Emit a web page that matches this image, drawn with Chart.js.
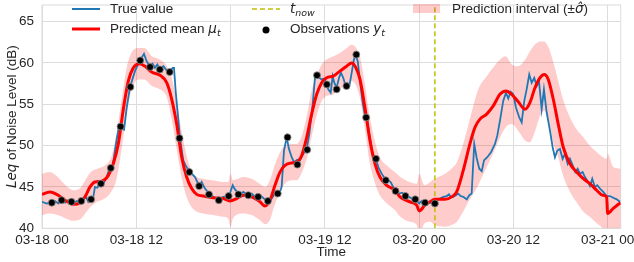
<!DOCTYPE html>
<html>
<head>
<meta charset="utf-8">
<script src="https://cdn.jsdelivr.net/npm/chart.js@4.4.0/dist/chart.umd.min.js"></script>
<style>
  html, body { margin: 0; padding: 0; background: #fff; }
  #chart { display: block; }
</style>
</head>
<body>
<canvas id="chart" width="634" height="262"></canvas>
<script>
// hours since 03-18 00
const xTickHours = [0, 12, 24, 36, 48, 60, 72];
const xTickLabels = ["03-18 00", "03-18 12", "03-19 00", "03-19 12", "03-20 00", "03-20 12", "03-21 00"];
const yTicks = [40, 45, 50, 55, 60, 65];
const tNow = 50;

const trueHours = [0, 0.6, 1.1, 1.65, 2.07, 2.38, 2.93, 3.35, 3.78, 4.42, 4.92, 5.26, 5.6, 5.89, 6.2, 6.53, 6.74, 7.04, 7.38, 7.89,
  8.23, 8.65, 9.0, 9.51, 9.8, 10.14, 10.44, 10.78, 11.2, 11.83, 12.47, 12.98, 13.32, 13.74, 14.08, 14.38, 14.67, 15.02, 15.44, 15.87,
  16.29, 16.63, 16.8, 17.01, 17.56, 17.98, 18.33, 18.62, 18.83, 19.18, 19.47, 20.02, 20.32, 20.74, 21.29, 21.8, 22.44, 23.07, 23.8, 24.27,
  24.56, 24.85, 25.2, 25.62, 26.25, 26.69, 27.11, 27.74, 28.25, 28.67, 29.1, 29.43, 29.78, 29.94, 30.29, 30.5, 30.8, 31.14, 31.43, 31.78,
  32.07, 32.49, 32.83, 33.25, 33.69, 34.02, 34.45, 34.74, 34.96, 35.29, 35.59, 35.92, 36.23, 36.43, 36.74, 36.99, 37.2, 37.5, 37.8, 38.05,
  38.34, 38.65, 38.9, 39.11, 39.41, 39.7, 39.92, 40.18, 40.47, 40.81, 41.14, 41.4, 41.74, 42.08, 42.5, 42.8, 43.23, 43.78, 44.07, 44.37,
  44.7, 45.01, 45.43, 45.85, 46.19, 46.7, 47.12, 47.56, 47.98, 48.32, 48.52, 48.96, 49.38, 49.8, 50.23, 50.65, 51.07, 51.5, 51.8, 52.01,
  52.34, 52.68, 52.98, 53.28, 53.61, 54.05, 54.38, 54.68, 55.01, 55.32, 55.65, 55.96, 56.25, 56.67, 57.14, 57.65, 57.94, 58.28, 58.7, 59.05,
  59.34, 59.65, 59.98, 60.32, 60.74, 61.05, 61.38, 61.68, 62.01, 62.32, 62.65, 62.96, 63.25, 63.59, 63.88, 64.23, 64.65, 64.99, 65.28, 65.58,
  65.92, 66.26, 66.56, 66.9, 67.19, 67.54, 67.87, 68.17, 68.47, 68.81, 69.1, 69.39, 69.74, 70.03, 70.37, 70.67, 71.01, 71.43, 71.86, 72.28,
  72.7, 73.14, 73.56];
const trueLevel = [43.2, 43.0, 43.1, 43.3, 43.0, 43.5, 43.1, 43.4, 43.0, 43.3, 43.0, 43.5, 43.8, 43.2, 43.5, 43.8, 45.0, 44.9, 45.4, 45.5,
  46.2, 47.4, 47.6, 50.8, 52.3, 52.0, 51.9, 54.6, 57.1, 59.0, 60.3, 61.1, 60.2, 59.6, 59.9, 59.4, 59.8, 59.2, 59.6, 59.1,
  59.0, 59.4, 59.4, 56.6, 50.9, 48.2, 47.5, 47.1, 46.8, 46.5, 46.2, 45.1, 45.6, 44.8, 44.2, 43.8, 43.4, 43.8, 43.9, 45.2,
  44.7, 44.4, 44.1, 44.4, 44.0, 44.2, 43.8, 44.0, 43.6, 43.3, 43.4, 43.9, 44.5, 44.2, 44.4, 45.0, 49.4, 51.0, 49.6, 48.6,
  48.0, 48.3, 48.2, 49.0, 49.6, 51.4, 55.0, 58.2, 58.5, 58.2, 58.0, 58.1, 57.4, 56.8, 56.4, 58.4, 57.6, 57.0, 58.2, 58.8,
  58.2, 57.2, 57.5, 57.2, 58.8, 60.4, 61.0, 60.2, 57.8, 55.2, 53.4, 53.0, 51.0, 49.0, 48.4, 47.4, 46.6, 45.8, 45.8, 45.6,
  45.0, 44.5, 44.2, 44.3, 43.9, 43.8, 43.6, 43.5, 43.0, 43.3, 42.9, 43.2, 43.1, 43.0, 43.4, 43.6, 43.8, 43.9, 44.1, 43.8,
  43.8, 44.0, 44.2, 43.9, 43.8, 43.5, 44.0, 44.2, 50.2, 48.5, 47.2, 46.9, 48.2, 48.6, 49.2, 50.2, 51.2, 53.0, 55.4, 56.4,
  55.7, 56.5, 56.2, 54.6, 53.4, 52.8, 55.4, 56.8, 58.6, 57.6, 58.2, 57.2, 57.8, 54.4, 56.8, 54.0, 51.8, 49.8, 48.6, 49.4,
  49.6, 48.4, 49.0, 47.8, 48.4, 47.6, 46.8, 47.2, 46.6, 46.8, 46.2, 45.8, 45.1, 46.0, 45.0, 45.2, 44.8, 44.4, 43.9, 43.9,
  43.7, 43.5, 43.2];

const meanHours = [0, 1.02, 1.87, 2.93, 3.98, 4.84, 5.47, 6.11, 6.74, 7.6, 8.44, 9.07, 9.71, 10.35, 10.98, 11.62, 12.38, 13.11, 13.96, 15.02,
  15.87, 16.51, 17.14, 17.78, 18.41, 19.05, 19.69, 20.53, 21.8, 23.07, 23.92, 24.78, 25.62, 26.69, 27.74, 28.38, 29.02, 29.65, 30.29, 30.92,
  31.78, 32.41, 33.05, 33.69, 34.32, 34.96, 35.59, 36.23, 37.07, 37.92, 38.77, 39.41, 39.96, 40.47, 41.1, 41.74, 42.38, 43.01, 43.87, 44.92,
  45.56, 46.83, 47.68, 48.01, 48.74, 49.38, 50.01, 51.28, 52.14, 52.77, 53.61, 54.46, 55.1, 55.74, 56.59, 57.43, 58.28, 59.05, 59.77, 60.61,
  61.47, 62.1, 62.74, 63.37, 63.92, 64.43, 65.07, 65.7, 66.34, 67.19, 68.04, 68.89, 69.74, 70.59, 71.35, 71.86, 71.99, 72.7, 73.64];
const meanLevel = [44.1, 44.4, 44.1, 43.4, 42.9, 43.1, 43.8, 45.0, 45.6, 45.7, 46.4, 47.8, 50.2, 54.4, 57.8, 59.4, 59.9, 59.6, 58.9, 58.5,
  57.6, 55.6, 52.6, 48.6, 46.2, 44.8, 44.1, 43.9, 43.7, 43.6, 43.3, 43.6, 44.0, 43.8, 43.2, 42.7, 43.4, 45.2, 46.8, 47.6,
  47.9, 48.0, 48.8, 51.0, 53.8, 56.2, 57.6, 58.2, 58.4, 59.0, 59.6, 60.0, 59.4, 58.0, 54.6, 50.6, 47.8, 46.2, 45.2, 44.6,
  43.8, 43.2, 42.8, 42.1, 42.8, 43.2, 43.5, 43.5, 43.8, 44.4, 47.0, 50.2, 52.2, 53.2, 53.8, 54.8, 56.2, 56.6, 56.2, 55.3,
  54.4, 55.2, 57.0, 58.2, 58.6, 58.0, 55.6, 52.6, 49.8, 47.8, 46.8, 46.0, 45.4, 44.6, 44.0, 43.8, 41.8, 42.4, 43.1];

const bandHours = [0, 1.0, 2.0, 3.0, 4.0, 5.0, 5.5, 6.2, 7.0, 8.0, 8.8, 9.5, 10.2, 10.8, 11.5, 12.3, 13.0, 14.0, 15.0, 15.9,
  16.5, 17.1, 17.8, 18.4, 19.0, 19.7, 20.5, 21.8, 23.0, 23.7, 24.0, 24.3, 25.6, 26.7, 27.7, 28.4, 29.0, 29.6, 30.3, 30.9,
  31.8, 32.4, 33.0, 33.7, 34.3, 35.0, 35.6, 36.2, 37.1, 37.9, 38.8, 39.4, 40.0, 40.5, 41.1, 41.7, 42.4, 43.0, 43.9, 44.9,
  45.6, 46.8, 47.7, 48.0, 48.7, 49.4, 50.0, 51.3, 52.1, 52.8, 53.6, 54.5, 55.3, 55.7, 56.6, 57.4, 58.3, 59.0, 59.8, 60.6,
  61.5, 62.1, 62.7, 63.4, 63.9, 64.4, 65.1, 65.7, 66.3, 67.2, 68.0, 68.9, 69.7, 70.6, 71.4, 71.9, 72.0, 72.7, 73.65];
const bandLow = [41.6, 41.8, 41.6, 41.2, 40.9, 41.2, 41.8, 42.6, 43.2, 43.6, 44.4, 46.0, 50.0, 54.0, 57.0, 58.0, 58.0, 57.2, 56.8, 55.8,
  53.2, 49.8, 46.0, 43.8, 42.6, 42.0, 41.8, 41.6, 41.4, 41.2, 40.2, 41.2, 41.8, 41.6, 41.0, 40.5, 41.0, 42.8, 44.4, 45.4,
  45.8, 45.8, 46.6, 48.4, 51.0, 53.8, 55.4, 56.0, 56.2, 56.8, 57.4, 57.8, 57.2, 55.6, 52.0, 48.0, 45.4, 44.0, 43.0, 42.2,
  41.4, 40.8, 40.4, 39.2, 40.6, 40.8, 40.4, 40.2, 40.4, 40.8, 42.0, 43.6, 44.8, 45.6, 47.4, 49.0, 51.0, 52.2, 52.6, 51.8,
  50.6, 50.4, 51.6, 53.6, 54.2, 53.4, 50.2, 48.6, 46.4, 44.4, 43.2, 42.0, 41.4, 40.6, 40.0, 39.4, 38.6, 38.8, 38.6];
const bandHigh = [46.6, 46.8, 46.2, 45.2, 44.6, 45.0, 45.8, 46.8, 47.2, 47.6, 48.6, 51.5, 56.0, 59.5, 61.4, 61.8, 61.8, 60.8, 60.4, 59.6,
  58.2, 55.6, 51.6, 48.8, 47.0, 46.2, 46.0, 45.8, 45.6, 45.6, 46.6, 45.8, 46.2, 46.0, 45.4, 45.0, 45.8, 47.6, 49.2, 50.0,
  50.2, 50.2, 51.0, 53.6, 56.6, 58.6, 59.8, 60.4, 60.8, 61.2, 61.8, 62.2, 61.8, 60.6, 57.4, 53.6, 50.4, 48.6, 47.6, 46.8,
  46.2, 45.6, 45.4, 46.6, 45.2, 45.6, 46.0, 46.6, 47.2, 48.0, 50.2, 53.4, 56.2, 57.2, 58.4, 59.4, 60.4, 60.8, 59.8, 59.6,
  60.4, 61.4, 62.2, 62.6, 62.6, 62.0, 60.0, 57.8, 55.6, 53.4, 52.0, 51.0, 50.0, 49.2, 48.6, 48.4, 49.0, 47.4, 47.2];

const obsHours = [1.25, 2.5, 3.75, 5, 6.25, 7.5, 8.75, 10, 11.25, 12.5, 13.75, 15, 16.25, 17.5, 18.75, 20, 21.25, 22.5, 23.75, 25,
  26.25, 27.5, 28.75, 30, 31.25, 32.5, 33.75, 35, 36.25, 37.5, 38.75, 40, 41.25, 42.5, 43.75, 45, 46.25, 47.5, 48.75, 50];
const obsLevel = [43.1, 43.4, 43.2, 43.3, 43.5, 45.4, 47.3, 52.3, 57.1, 60.3, 59.5, 59.2, 58.9, 50.9, 46.8, 45.1, 44.1, 43.4, 43.9, 44.1,
  44.0, 43.8, 43.3, 44.2, 51.0, 47.7, 49.5, 58.5, 57.4, 56.8, 57.2, 61.0, 53.4, 48.4, 45.8, 44.5, 43.9, 43.5, 43.1, 43.0];

const TEXT = "'Liberation Sans', Arial, sans-serif";
const MATH = "'DejaVu Sans', sans-serif";
const FS = 13.5;
const GRID = '#dcdcdc';
const INK = '#262626';
const BLUE = '#1f77b4';
const RED = '#ff0000';
const YELLOW = '#bfbf00';
const PINK = 'rgba(255, 0, 0, 0.2)';

function pts(xs, ys) {
  return xs.map((x, i) => ({ x: x, y: ys[i] }));
}

// text made of runs: {t, math, sub}
function runFont(r, size) {
  const s = r.sub ? size * 0.7 : size;
  return r.math ? 'italic ' + s + 'px ' + MATH : s + 'px ' + TEXT;
}
function runsWidth(ctx, runs, size) {
  let w = 0;
  runs.forEach(r => { ctx.font = runFont(r, size); w += ctx.measureText(r.t).width; });
  return w;
}
function drawRuns(ctx, runs, x, y, size) {
  let cx = x;
  ctx.textBaseline = 'middle';
  ctx.textAlign = 'left';
  runs.forEach(r => {
    ctx.font = runFont(r, size);
    ctx.fillText(r.t, cx, y + (r.sub ? size * 0.3 : 0));
    cx += ctx.measureText(r.t).width;
  });
}

const decor = {
  id: 'decor',
  beforeDatasetsDraw(chart) {
    const { ctx, chartArea: a } = chart;
    ctx.save();
    ctx.strokeStyle = GRID;
    ctx.lineWidth = 1;
    ctx.strokeRect(a.left, a.top, a.right - a.left, a.bottom - a.top);
    ctx.restore();
  },
  afterDraw(chart) {
    const { ctx, chartArea: a } = chart;
    ctx.save();
    ctx.fillStyle = INK;

    // axis titles
    const yTitle = [{ t: 'Leq', math: true }, { t: ' of Noise Level (dB)' }];
    const w = runsWidth(ctx, yTitle, FS);
    ctx.save();
    ctx.translate(12, (a.top + a.bottom) / 2);
    ctx.rotate(-Math.PI / 2);
    drawRuns(ctx, yTitle, -w / 2, 0, FS);
    ctx.restore();

    ctx.font = FS + 'px ' + TEXT;
    ctx.textAlign = 'center';
    ctx.textBaseline = 'middle';
    ctx.fillText('Time', (a.left + a.right) / 2, 252);

    // legend
    ctx.lineCap = 'butt';
    ctx.strokeStyle = BLUE; ctx.lineWidth = 2;
    ctx.beginPath(); ctx.moveTo(72, 9); ctx.lineTo(100, 9); ctx.stroke();
    ctx.strokeStyle = RED; ctx.lineWidth = 3;
    ctx.beginPath(); ctx.moveTo(72, 29); ctx.lineTo(100, 29); ctx.stroke();
    ctx.strokeStyle = YELLOW; ctx.lineWidth = 1.5; ctx.setLineDash([5, 3]);
    ctx.beginPath(); ctx.moveTo(252, 9); ctx.lineTo(280, 9); ctx.stroke();
    ctx.setLineDash([]);
    ctx.fillStyle = '#000';
    ctx.beginPath(); ctx.arc(266, 30, 3.5, 0, Math.PI * 2); ctx.fill();
    ctx.fillStyle = PINK;
    ctx.fillRect(413, 4, 27, 9);

    ctx.fillStyle = INK;
    drawRuns(ctx, [{ t: 'True value' }], 110, 9, FS);
    drawRuns(ctx, [{ t: 'Predicted mean ' }, { t: 'μ', math: true }, { t: 't', math: true, sub: true }], 110, 29, FS);
    drawRuns(ctx, [{ t: 't', math: true }, { t: 'now', math: true, sub: true }], 290, 9, FS);
    drawRuns(ctx, [{ t: 'Observations ' }, { t: 'y', math: true }, { t: 't', math: true, sub: true }], 290, 29, FS);
    drawRuns(ctx, [{ t: 'Prediction interval (±' }, { t: 'σ\u0302', math: true }, { t: ')' }], 452, 9, FS);
    ctx.restore();
  }
};

new Chart(document.getElementById('chart'), {
  type: 'line',
  data: {
    datasets: [
      {
        label: 'Observations',
        data: pts(obsHours, obsLevel),
        showLine: false,
        pointRadius: 3.5,
        pointBackgroundColor: '#000',
        pointBorderColor: 'rgba(140,140,140,0.8)',
        pointBorderWidth: 1,
        order: 0
      },
      {
        label: 'Predicted mean',
        data: pts(meanHours, meanLevel),
        borderColor: RED,
        borderWidth: 3,
        pointRadius: 0,
        cubicInterpolationMode: 'monotone',
        order: 1
      },
      {
        label: 'True value',
        data: pts(trueHours, trueLevel),
        borderColor: BLUE,
        borderWidth: 1.8,
        pointRadius: 0,
        tension: 0,
        order: 2
      },
      {
        label: 't_now',
        data: [{ x: tNow, y: 40 }, { x: tNow, y: 67 }],
        borderColor: YELLOW,
        borderWidth: 1.5,
        borderDash: [5, 3],
        pointRadius: 0,
        order: 3
      },
      {
        label: 'upper',
        data: pts(bandHours, bandHigh),
        borderColor: 'transparent',
        borderWidth: 0,
        pointRadius: 0,
        backgroundColor: PINK,
        fill: '+1',
        cubicInterpolationMode: 'monotone',
        order: 4
      },
      {
        label: 'lower',
        data: pts(bandHours, bandLow),
        borderColor: 'transparent',
        borderWidth: 0,
        pointRadius: 0,
        fill: false,
        cubicInterpolationMode: 'monotone',
        order: 5
      }
    ]
  },
  options: {
    responsive: false,
    animation: false,
    devicePixelRatio: 1,
    layout: { padding: { top: 3, right: 13.3, bottom: 0, left: 0 } },
    plugins: { legend: { display: false }, tooltip: { enabled: false } },
    scales: {
      x: {
        type: 'linear',
        min: 0,
        max: 73.65,
        afterFit: s => { s.height = 33.7; s.paddingLeft = 0; s.paddingRight = 0; },
        afterBuildTicks: s => { s.ticks = xTickHours.map(v => ({ value: v })); },
        ticks: {
          padding: 4,
          color: INK,
          font: { family: TEXT, size: FS },
          maxRotation: 0,
          autoSkip: false,
          callback: v => xTickLabels[xTickHours.indexOf(v)]
        },
        grid: { color: GRID, drawTicks: false },
        border: { color: GRID }
      },
      y: {
        min: 40,
        max: 67,
        afterFit: s => { s.width = 42; s.paddingTop = 0; s.paddingBottom = 0; },
        afterBuildTicks: s => { s.ticks = yTicks.map(v => ({ value: v })); },
        ticks: {
          padding: 8,
          color: INK,
          font: { family: TEXT, size: FS }
        },
        grid: { color: GRID, drawTicks: false },
        border: { color: GRID }
      }
    }
  },
  plugins: [decor]
});
</script>
</body>
</html>
